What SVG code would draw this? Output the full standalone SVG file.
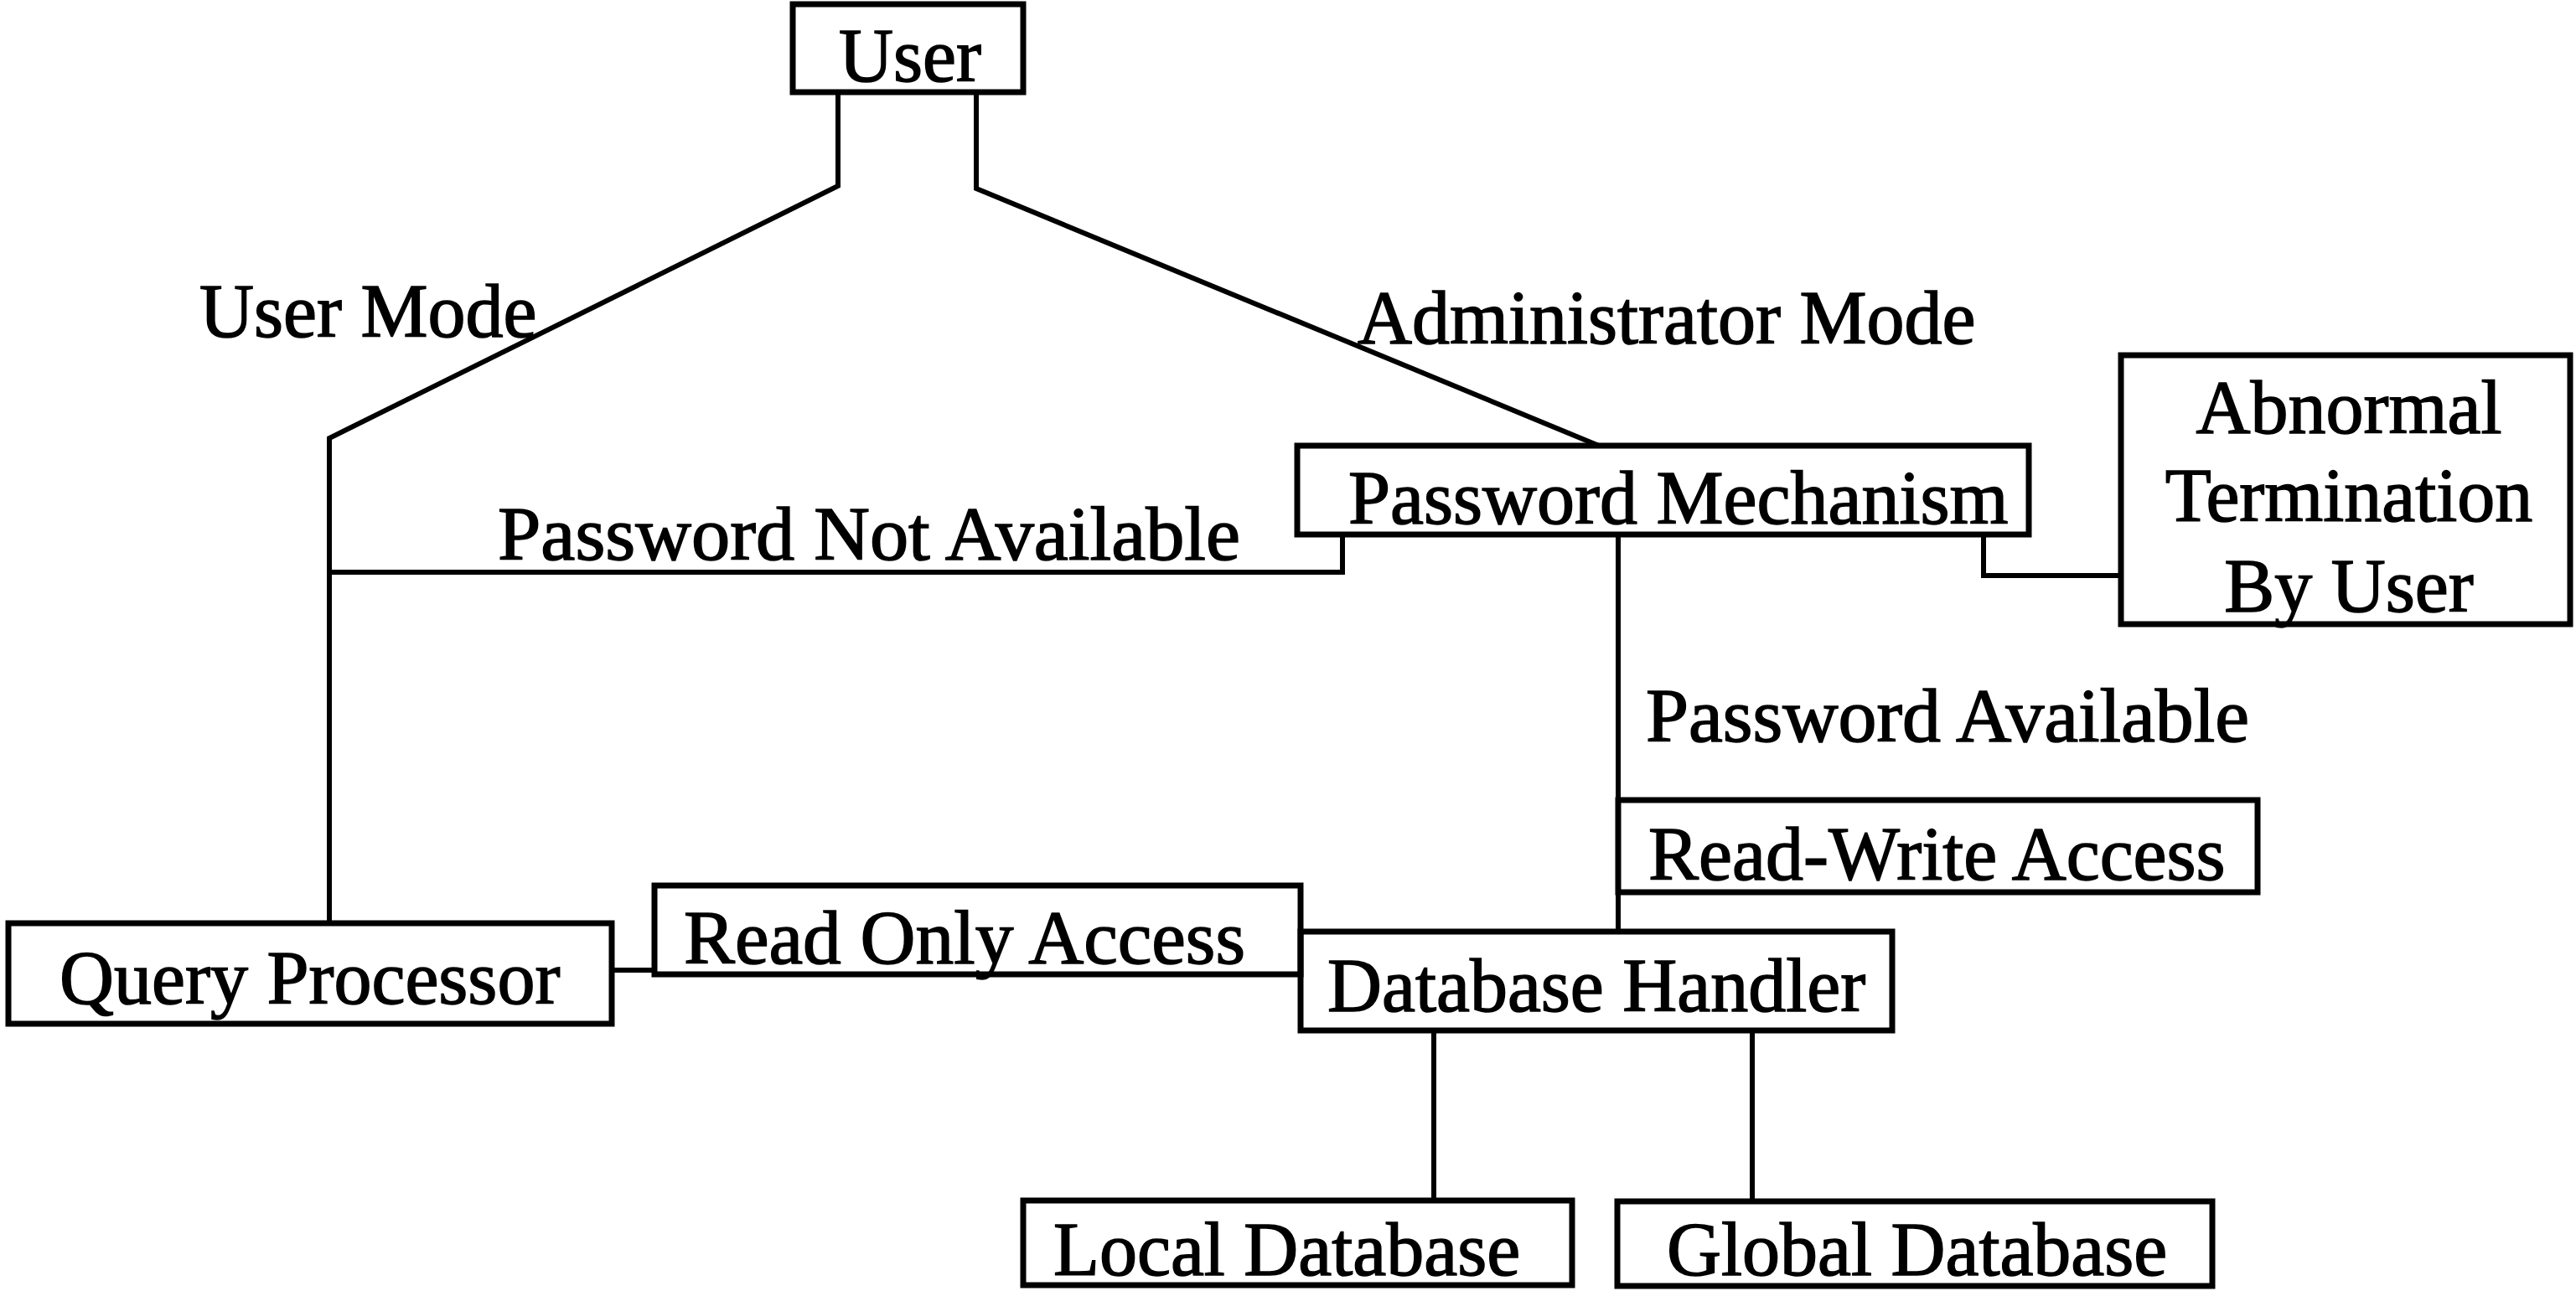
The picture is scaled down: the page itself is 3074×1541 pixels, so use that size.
<svg xmlns="http://www.w3.org/2000/svg" width="3074" height="1541" viewBox="0 0 3074 1541">
<style>
.box{fill:none;stroke:#000;stroke-width:7}
.ln{fill:none;stroke:#000;stroke-width:6;stroke-linejoin:miter}
text{font-family:"Liberation Serif","Times New Roman",serif;font-size:90px;fill:#000;stroke:#000;stroke-width:1.5}
.mid{text-anchor:middle}
</style>
<rect width="3074" height="1541" fill="#fff"/>
<g id="connectors">
<polyline class="ln" points="1000,110 1000,222 393,523 393,1102"/>
<polyline class="ln" points="1165,110 1165,225 1908,532"/>
<polyline class="ln" points="393,683 1602,683 1602,638"/>
<line class="ln" x1="1931" y1="638" x2="1931" y2="1112"/>
<polyline class="ln" points="2367,638 2367,687 2531,687"/>
<line class="ln" x1="730" y1="1158" x2="781" y2="1158"/>
<line class="ln" x1="1711" y1="1230" x2="1711" y2="1433"/>
<line class="ln" x1="2091" y1="1230" x2="2091" y2="1434"/>
<text x="238" y="402">User Mode</text>
<text x="1620" y="410">Administrator Mode</text>
<text x="594" y="668" textLength="886" lengthAdjust="spacingAndGlyphs">Password Not Available</text>
<text x="1964" y="885" textLength="720" lengthAdjust="spacingAndGlyphs">Password Available</text>
</g>
<g id="user">
<rect class="box" x="946" y="5" width="275" height="105"/>
<text class="mid" x="1086" y="97">User</text>
</g>
<g id="password-mechanism">
<rect class="box" x="1548" y="532" width="873" height="106"/>
<text x="1609" y="625">Password Mechanism</text>
</g>
<g id="abnormal-termination">
<rect class="box" x="2531" y="424" width="536" height="321"/>
<text class="mid" x="2803" y="517">Abnormal</text>
<text class="mid" x="2803" y="622">Termination</text>
<text class="mid" x="2803" y="730">By User</text>
</g>
<g id="read-write-access">
<rect class="box" x="1931" y="955" width="763" height="110"/>
<text x="1967" y="1050">Read-Write Access</text>
</g>
<g id="query-processor">
<rect class="box" x="10" y="1102" width="720" height="120"/>
<text x="71" y="1198">Query Processor</text>
</g>
<g id="read-only-access">
<rect class="box" x="781" y="1057" width="771" height="106"/>
<text x="816" y="1150" textLength="670" lengthAdjust="spacingAndGlyphs">Read Only Access</text>
</g>
<g id="database-handler">
<rect class="box" x="1552" y="1112" width="706" height="118"/>
<text x="1584" y="1207">Database Handler</text>
</g>
<g id="local-database">
<rect class="box" x="1221" y="1433" width="655" height="101"/>
<text x="1257" y="1522">Local Database</text>
</g>
<g id="global-database">
<rect class="box" x="1930" y="1434" width="710" height="101"/>
<text x="1989" y="1522">Global Database</text>
</g>
</svg>
